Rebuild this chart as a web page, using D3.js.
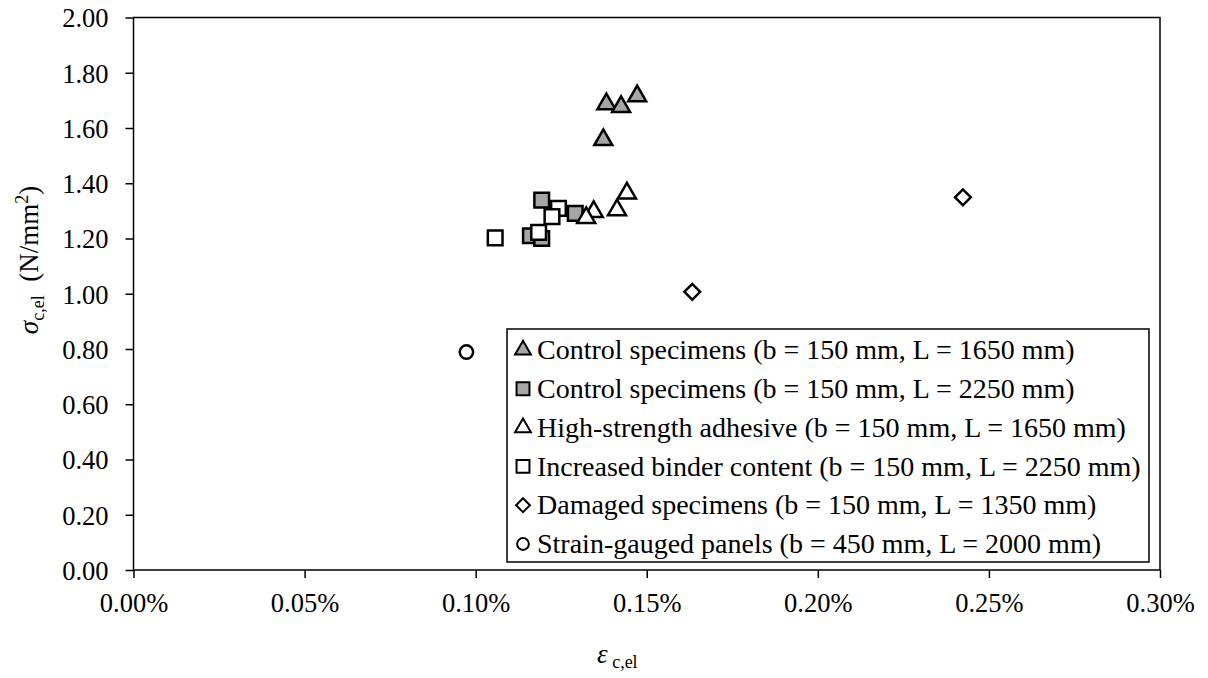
<!DOCTYPE html>
<html>
<head>
<meta charset="utf-8">
<script src="https://cdn.jsdelivr.net/npm/d3@7"></script>
<style>
  body { margin: 0; background: #fff; }
  svg text { font-family: "Liberation Serif", "Times New Roman", serif; fill: #000; }
</style>
</head>
<body>
<div id="chart"></div>
<script>
// series names (legend order)
var seriesNames = [
  "Control specimens (b = 150 mm, L = 1650 mm)",
  "Control specimens (b = 150 mm, L = 2250 mm)",
  "High-strength adhesive (b = 150 mm, L = 1650 mm)",
  "Increased binder content (b = 150 mm, L = 2250 mm)",
  "Damaged specimens (b = 150 mm, L = 1350 mm)",
  "Strain-gauged panels (b = 450 mm, L = 2000 mm)"
];

// strain values (as fractions) and stress values (N/mm2), one list per series
var ctrl1650_x = [0.001373, 0.001382, 0.001425, 0.001472];
var ctrl1650_y = [1.557, 1.687, 1.677, 1.716];
var ctrl2250_x = [0.001193, 0.001291, 0.001160, 0.001193];
var ctrl2250_y = [1.339, 1.291, 1.210, 1.200];
var hsa_x = [0.001442, 0.001413, 0.001345, 0.001323];
var hsa_y = [1.364, 1.303, 1.297, 1.275];
var binder_x = [0.001057, 0.001242, 0.001223, 0.001184];
var binder_y = [1.202, 1.309, 1.279, 1.222];
var damaged_x = [0.002424, 0.001633];
var damaged_y = [1.349, 1.007];
var gauged_x = [0.000973];
var gauged_y = [0.789];

var xTicks = [0, 0.0005, 0.001, 0.0015, 0.002, 0.0025, 0.003];
var yTicks = [0, 0.2, 0.4, 0.6, 0.8, 1.0, 1.2, 1.4, 1.6, 1.8, 2.0];

var width = 1208,
    height = 678;

var pLeft = 133.5, pRight = 1160, pTop = 17.5, pBottom = 570;

var x = d3.scaleLinear().domain([0, 0.003]).range([pLeft, pRight]);
var y = d3.scaleLinear().domain([0, 2]).range([pBottom, pTop]);

var grey = "#a6a6a6";

var series = [
  {name: seriesNames[0], xs: ctrl1650_x, ys: ctrl1650_y, shape: "triangle", fill: grey},
  {name: seriesNames[1], xs: ctrl2250_x, ys: ctrl2250_y, shape: "square", fill: grey},
  {name: seriesNames[2], xs: hsa_x, ys: hsa_y, shape: "triangle", fill: "#fff"},
  {name: seriesNames[3], xs: binder_x, ys: binder_y, shape: "square", fill: "#fff"},
  {name: seriesNames[4], xs: damaged_x, ys: damaged_y, shape: "diamond", fill: "#fff"},
  {name: seriesNames[5], xs: gauged_x, ys: gauged_y, shape: "circle", fill: "#fff"}
];

function markerPath(shape, scale) {
  var sym, size;
  if (shape == "triangle") { sym = d3.symbolTriangle; size = 140; }
  else if (shape == "square") { sym = d3.symbolSquare; size = 215; }
  else if (shape == "diamond") { sym = d3.symbolSquare; size = 125; }
  else { sym = d3.symbolCircle; size = 140; }
  return d3.symbol().type(sym).size(size * scale * scale)();
}

var svg = d3.select("#chart")
    .append("svg")
    .attr("width", width)
    .attr("height", height);

// axes
var xAxis = d3.axisBottom(x).tickValues(xTicks).tickFormat(d3.format(".2%"))
    .tickSize(8).tickSizeOuter(0).tickPadding(6);
var yAxis = d3.axisLeft(y).tickValues(yTicks).tickFormat(d3.format(".2f"))
    .tickSize(8).tickSizeOuter(0).tickPadding(17);

var gx = svg.append("g").attr("transform", "translate(0," + pBottom + ")").call(xAxis);
var gy = svg.append("g").attr("transform", "translate(" + pLeft + ",0)").call(yAxis);

[gx, gy].forEach(function(g) {
  g.select(".domain").remove();
  g.selectAll("line").attr("stroke", "#000").attr("stroke-width", 1.5);
  g.selectAll("text").style("font-size", "26.5px").attr("fill", "#000");
});
gx.selectAll("text").attr("dy", "1.05em");
gy.selectAll("text").attr("dy", "0.35em");

// plot frame
svg.append("rect")
    .attr("x", pLeft).attr("y", pTop)
    .attr("width", pRight - pLeft).attr("height", pBottom - pTop)
    .attr("fill", "none").attr("stroke", "#000").attr("stroke-width", 1.5);

// points
series.forEach(function(s) {
  var pts = s.xs.map(function(v, i) { return [v, s.ys[i]]; });
  svg.append("g").selectAll("path")
      .data(pts)
      .enter()
      .append("path")
      .attr("d", markerPath(s.shape, 1))
      .attr("transform", function(d) {
        var t = "translate(" + x(d[0]) + "," + y(d[1]) + ")";
        return s.shape == "diamond" ? t + " rotate(45)" : t;
      })
      .attr("fill", s.fill)
      .attr("stroke", "#000")
      .attr("stroke-width", 2.5);
});

// legend
var lgX = 507, lgY = 329, lgW = 642, lgH = 233, rowH = 38.8;
var lg = svg.append("g");
lg.append("rect")
    .attr("x", lgX).attr("y", lgY).attr("width", lgW).attr("height", lgH)
    .attr("fill", "#fff").attr("stroke", "#000").attr("stroke-width", 1.5);

var rows = lg.selectAll("g.row")
    .data(series)
    .enter()
    .append("g")
    .attr("class", "row")
    .attr("transform", function(d, i) { return "translate(0," + (lgY + 21 + i * rowH) + ")"; });

rows.append("path")
    .attr("d", function(d) { return markerPath(d.shape, 0.88); })
    .attr("transform", function(d) { return "translate(523,0)" + (d.shape == "diamond" ? " rotate(45)" : ""); })
    .attr("fill", function(d) { return d.fill; })
    .attr("stroke", "#000")
    .attr("stroke-width", 2);

rows.append("text")
    .attr("x", 537)
    .attr("dy", "0.33em")
    .style("font-size", "28px")
    .text(function(d) { return d.name; });

// y axis title
var yt = svg.append("text")
    .attr("transform", "translate(38,260) rotate(-90)")
    .attr("text-anchor", "middle")
    .style("font-size", "27px");
yt.append("tspan").style("font-style", "italic").text("σ");
yt.append("tspan").attr("dy", 6).style("font-size", "18px").text("c,el");
yt.append("tspan").attr("dy", -6).text("\u00a0\u00a0(N/mm");
yt.append("tspan").attr("dy", -10).style("font-size", "18px").text("2");
yt.append("tspan").attr("dy", 10).text(")");

// x axis title
var xt = svg.append("text")
    .attr("x", 597)
    .attr("y", 663)
    .style("font-size", "27px");
xt.append("tspan").style("font-style", "italic").text("ε");
xt.append("tspan").attr("dy", 5).style("font-size", "18px").text(" c,el");
</script>
</body>
</html>
